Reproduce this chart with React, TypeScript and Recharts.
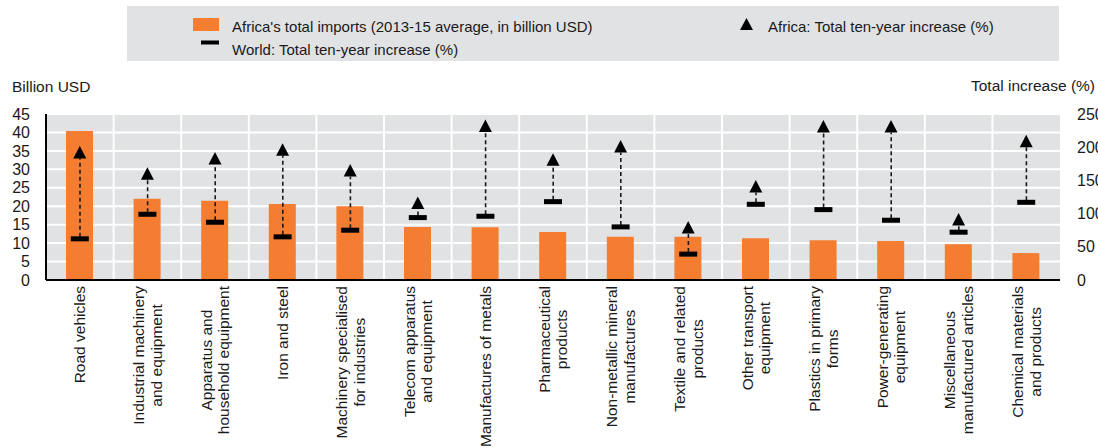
import React from "react";
import {
  ComposedChart,
  Bar,
  Scatter,
  XAxis,
  YAxis,
  CartesianGrid,
} from "recharts";

// ─── Data ─────────────────────────────────────────
const categories = [
  "Road vehicles",
  "Industrial machinery\nand equipment",
  "Apparatus and\nhousehold equipment",
  "Iron and steel",
  "Machinery specialised\nfor industries",
  "Telecom apparatus\nand equipment",
  "Manufactures of metals",
  "Pharmaceutical\nproducts",
  "Non-metallic mineral\nmanufactures",
  "Textile and related\nproducts",
  "Other transport\nequipment",
  "Plastics in primary\nforms",
  "Power-generating\nequipment",
  "Miscellaneous\nmanufactured articles",
  "Chemical materials\nand products",
];

// Africa's total imports, 2013-15 average, billion USD
const imports = [40.4, 22.0, 21.5, 20.6, 20.0, 14.4, 14.3, 13.0, 11.7, 11.7, 11.3, 10.8, 10.6, 9.7, 7.3];
// Total ten-year increase (%)
const africaIncrease = [192, 160, 183, 196, 165, 116, 232, 181, 201, 79, 141, 231, 231, 91, 209];
const worldIncrease = [62, 99, 87, 65, 75, 94, 96, 118, 80, 39, 114, 106, 90, 72, 117];

const leftTicks = [0, 5, 10, 15, 20, 25, 30, 35, 40, 45];
const rightTicks = [0, 50, 100, 150, 200, 250];

const data = categories.map((name, i) => ({
  name,
  imports: imports[i],
  africa: africaIncrease[i],
  world: worldIncrease[i],
}));

const boundaryTicks = categories.map((_, i) => i).concat(categories.length);

// ─── Style ────────────────────────────────────────
const FONT = "'Liberation Sans', Arial, Helvetica, sans-serif";
const INK = "#1a1a1a";
const ORANGE = "#f47d31";
const PANEL = "#e1e2e4";
const LABEL_FS = 15.5;
const LABEL_LH = 17.5;

let ctx: CanvasRenderingContext2D | null = null;
function textWidth(s: string, fs: number) {
  if (!ctx && typeof document !== "undefined") {
    ctx = document.createElement("canvas").getContext("2d");
  }
  if (!ctx) return s.length * fs * 0.5;
  ctx.font = `${fs}px ${FONT}`;
  return ctx.measureText(s).width;
}

// ─── Custom shapes ────────────────────────────────
function CategoryTick({ x, y, payload }: any) {
  const lines = String(payload.value).split("\n");
  const maxW = Math.max(...lines.map((l) => textWidth(l, LABEL_FS)));
  return (
    <g transform={`translate(${x},${y + maxW / 2}) rotate(-90)`}>
      {lines.map((l, i) => (
        <text
          key={i}
          x={0}
          y={(i - (lines.length - 1) / 2) * LABEL_LH + 0.36 * LABEL_FS}
          textAnchor="middle"
          fontSize={LABEL_FS}
          fontFamily={FONT}
          fill={INK}
        >
          {l}
        </text>
      ))}
    </g>
  );
}

function Connector({ x, y, width, height }: any) {
  if (x == null || y == null) return null;
  const cx = x + width / 2;
  return (
    <line
      x1={cx}
      x2={cx}
      y1={y + height - 2}
      y2={y + 6}
      stroke={INK}
      strokeWidth={1.6}
      strokeDasharray="4 3"
    />
  );
}

function TriangleMark({ cx, cy }: any) {
  return <polygon points={`${cx},${cy - 6.5} ${cx - 6.5},${cy + 6} ${cx + 6.5},${cy + 6}`} fill="#000" />;
}

function DashMark({ cx, cy }: any) {
  return <rect x={cx - 9} y={cy - 2.5} width={18} height={5} fill="#000" />;
}

// ─── Component ────────────────────────────────────
export default function App() {
  const tickStyle = { fontSize: 16, fill: INK, fontFamily: FONT };

  return (
    <div style={{ position: "absolute", left: 0, top: 0, width: 1098, height: 448, background: "#fff", overflow: "hidden" }}>
      <ComposedChart width={1098} height={448} data={data} margin={{ top: 114, right: 0, bottom: 0, left: 0 }}>
        <CartesianGrid
          fill={PANEL}
          fillOpacity={1}
          stroke="#fff"
          strokeWidth={2}
          verticalCoordinatesGenerator={({ offset }: any) =>
            categories.slice(1).map((_, i) => offset.left + ((i + 1) * offset.width) / categories.length)
          }
        />

        <XAxis
          dataKey="name"
          interval={0}
          height={168}
          tickSize={0}
          tickMargin={6}
          tickLine={false}
          axisLine={{ stroke: "#000", strokeWidth: 2 }}
          tick={<CategoryTick />}
        />
        <XAxis xAxisId="rng" dataKey="name" hide />
        <XAxis
          xAxisId="bounds"
          type="number"
          domain={[0, categories.length]}
          ticks={boundaryTicks}
          interval={0}
          mirror
          height={6}
          tickSize={6}
          tick={false}
          axisLine={false}
          tickLine={{ stroke: "#000", strokeWidth: 2 }}
        />

        <YAxis
          domain={[0, 45]}
          ticks={leftTicks}
          interval={0}
          width={46}
          tickSize={0}
          tickMargin={16}
          tickLine={false}
          axisLine={{ stroke: "#000", strokeWidth: 2 }}
          tick={tickStyle}
        />
        <YAxis
          yAxisId="right"
          orientation="right"
          domain={[0, 250]}
          ticks={rightTicks}
          interval={0}
          width={38}
          tickSize={0}
          tickMargin={17}
          tickLine={false}
          axisLine={false}
          tick={{ ...tickStyle, textAnchor: "start" }}
        />

        <Bar dataKey="imports" fill={ORANGE} barSize={27} isAnimationActive={false} />
        <Bar
          xAxisId="rng"
          yAxisId="right"
          dataKey={(d: any) => [d.world, d.africa]}
          barSize={10}
          shape={<Connector />}
          isAnimationActive={false}
        />
        <Scatter yAxisId="right" dataKey="world" shape={<DashMark />} isAnimationActive={false} />
        <Scatter yAxisId="right" dataKey="africa" shape={<TriangleMark />} isAnimationActive={false} />
      </ComposedChart>

      {/* Legend and axis titles */}
      <svg width={1098} height={100} style={{ position: "absolute", left: 0, top: 0, pointerEvents: "none" }}>
        <rect x={127} y={6} width={932} height={55} fill={PANEL} />
        <rect x={193} y={18} width={26} height={13} fill={ORANGE} />
        <text x={232} y={31.5} fontSize={15} fontFamily={FONT} fill={INK}>
          Africa's total imports (2013-15 average, in billion USD)
        </text>
        <rect x={201} y={40.5} width={18} height={4} fill="#000" />
        <text x={232} y={55} fontSize={15} fontFamily={FONT} fill={INK}>
          World: Total ten-year increase (%)
        </text>
        <polygon points="746.5,18 740,30 753,30" fill="#000" />
        <text x={768} y={31.5} fontSize={15} fontFamily={FONT} fill={INK}>
          Africa: Total ten-year increase (%)
        </text>

        <text x={12} y={92} fontSize={15.5} fontFamily={FONT} fill={INK}>
          Billion USD
        </text>
        <text x={1095} y={91} fontSize={15.5} fontFamily={FONT} fill={INK} textAnchor="end">
          Total increase (%)
        </text>
      </svg>
    </div>
  );
}
